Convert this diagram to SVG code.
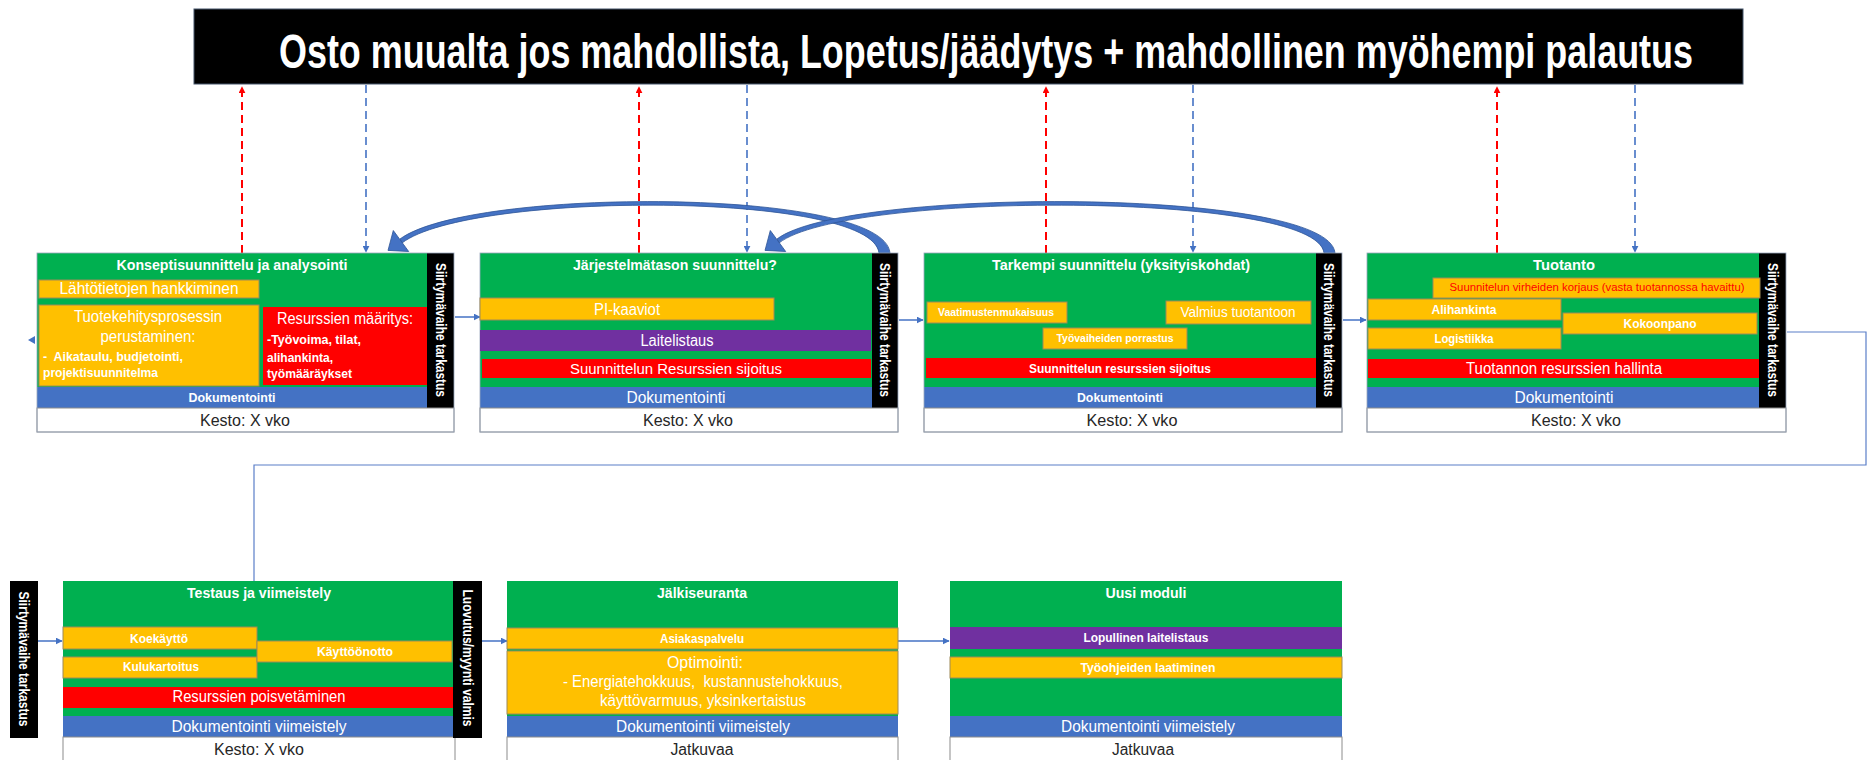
<svg xmlns="http://www.w3.org/2000/svg" width="1869" height="760" viewBox="0 0 1869 760">
  <style>
    .g{fill:#00B050}
    .o{fill:#FFC000;stroke:#9e8a58;stroke-width:1}
    .r{fill:#FF0000}
    .p{fill:#7030A0}
    .b{fill:#4472C4}
    .k{fill:#000}
    .w{fill:#fff;stroke:#8c8c8c;stroke-width:1}
    .frame{fill:none;stroke:#9aa7bd;stroke-width:0.8}
    text{font-family:"Liberation Sans",Arial,sans-serif;fill:#fff;text-anchor:middle}
    .bd{font-weight:bold}
    .dk{fill:#262626}
    .st{text-anchor:start}
    .red{fill:#FF0000}
    .flow{fill:none;stroke:#4472C4;stroke-width:1.5}
    .link{fill:none;stroke:#5b7fc8;stroke-width:1.2}
    .up{fill:none;stroke:#FF0000;stroke-width:2;stroke-dasharray:8 5}
    .down{fill:none;stroke:#4472C4;stroke-width:1.6;stroke-dasharray:8 5}
    .arc{fill:#4472C4;stroke:#2f5597;stroke-width:0.8}
  </style>
  <defs>
    <marker id="ah" viewBox="0 0 10 10" refX="9" refY="5" markerWidth="7" markerHeight="7" markerUnits="userSpaceOnUse" orient="auto">
      <path d="M0,0 L10,5 L0,10 z" fill="#4472C4"/>
    </marker>
    <marker id="ahRed" viewBox="0 0 10 10" refX="9" refY="5" markerWidth="7" markerHeight="7" markerUnits="userSpaceOnUse" orient="auto">
      <path d="M0,0 L10,5 L0,10 z" fill="#FF0000"/>
    </marker>
  </defs>

  <!-- banner -->
  <g id="banner">
    <rect x="194" y="9" width="1549" height="75" fill="#000" stroke="#44546a" stroke-width="1"/>
    <!-- tall condensed headline: vertical stretch keeps it within the bar width -->
    <text class="bd st" transform="translate(279,68) scale(1,1.4)" x="0" y="0" font-size="34" textLength="1414" lengthAdjust="spacingAndGlyphs">Osto muualta jos mahdollista, Lopetus/jäädytys + mahdollinen myöhempi palautus</text>
  </g>

  <!-- connectors -->
  <g id="connectors">
    <!-- escalation to banner (red, up) -->
    <line class="up" x1="242" y1="253" x2="242" y2="87" marker-end="url(#ahRed)"/>
    <line class="up" x1="639" y1="253" x2="639" y2="87" marker-end="url(#ahRed)"/>
    <line class="up" x1="1046" y1="253" x2="1046" y2="87" marker-end="url(#ahRed)"/>
    <line class="up" x1="1497" y1="253" x2="1497" y2="87" marker-end="url(#ahRed)"/>
    <!-- return from banner (blue, down) -->
    <line class="down" x1="366" y1="85" x2="366" y2="252" marker-end="url(#ah)"/>
    <line class="down" x1="747" y1="85" x2="747" y2="252" marker-end="url(#ah)"/>
    <line class="down" x1="1193" y1="85" x2="1193" y2="252" marker-end="url(#ah)"/>
    <line class="down" x1="1635" y1="85" x2="1635" y2="252" marker-end="url(#ah)"/>

    <!-- loop-back arcs -->
    <path class="arc" d="M890,253 C884,187 470,187 400,239 L402,243 C470,191 872,191 879,253 Z"/>
    <polygon class="arc" points="408.7,251.5 388,250.4 393.3,230.5"/>
    <path class="arc" d="M1335,253 C1329,187 845,187 777,239 L779,243 C845,191 1317,191 1324,253 Z"/>
    <polygon class="arc" points="785.7,251.5 765,250.4 770.3,230.5"/>

    <!-- phase flow, row 1 -->
    <line class="flow" x1="455" y1="317" x2="480" y2="317" marker-end="url(#ah)"/>
    <line class="flow" x1="899" y1="320" x2="923" y2="320" marker-end="url(#ah)"/>
    <line class="flow" x1="1343" y1="320" x2="1366" y2="320" marker-end="url(#ah)"/>
    <polygon points="28,340 35,336 35,344" fill="#4472C4"/>
    <!-- wrap to row 2 -->
    <path class="link" d="M1787,332 H1866 V465 H254 V581"/>
    <!-- phase flow, row 2 -->
    <line class="flow" x1="38" y1="641" x2="62" y2="641" marker-end="url(#ah)"/>
    <line class="flow" x1="482" y1="641" x2="507" y2="641" marker-end="url(#ah)"/>
    <line class="flow" x1="898" y1="641" x2="949" y2="641" marker-end="url(#ah)"/>
  </g>

  <!-- Phase 1 -->
  <g id="konseptisuunnittelu">
    <rect class="g" x="37" y="253" width="390" height="134"/>
    <rect class="b" x="37" y="387" width="390" height="21"/>
    <rect class="k" x="427" y="253" width="27" height="155"/>
    <rect class="w" x="37" y="408" width="417" height="24"/>
    <rect class="frame" x="37" y="253" width="417" height="179"/>
    <text class="bd" x="232" y="270" font-size="15" textLength="231" lengthAdjust="spacingAndGlyphs">Konseptisuunnittelu ja analysointi</text>
    <rect class="o" x="39" y="280" width="220" height="18"/>
    <text x="149" y="294" font-size="16" textLength="179" lengthAdjust="spacingAndGlyphs">Lähtötietojen hankkiminen</text>
    <rect class="o" x="39" y="305" width="220" height="81"/>
    <text x="148" y="322" font-size="16" textLength="148" lengthAdjust="spacingAndGlyphs">Tuotekehitysprosessin</text>
    <text x="148" y="342" font-size="16" textLength="95" lengthAdjust="spacingAndGlyphs">perustaminen:</text>
    <text class="bd st" x="43" y="361" font-size="13" textLength="140" lengthAdjust="spacingAndGlyphs" xml:space="preserve">-  Aikataulu, budjetointi,</text>
    <text class="bd st" x="43" y="377" font-size="13" textLength="115" lengthAdjust="spacingAndGlyphs">projektisuunnitelma</text>
    <rect class="r" x="263" y="307" width="164" height="78"/>
    <text x="345" y="324" font-size="16" textLength="136" lengthAdjust="spacingAndGlyphs">Resurssien määritys:</text>
    <text class="bd st" x="267" y="344" font-size="13" textLength="94" lengthAdjust="spacingAndGlyphs">-Työvoima, tilat,</text>
    <text class="bd st" x="267" y="362" font-size="13" textLength="66" lengthAdjust="spacingAndGlyphs">alihankinta,</text>
    <text class="bd st" x="267" y="378" font-size="13" textLength="85" lengthAdjust="spacingAndGlyphs">työmääräykset</text>
    <text class="bd" x="232" y="402" font-size="13" textLength="87" lengthAdjust="spacingAndGlyphs">Dokumentointi</text>
    <text class="dk" x="245" y="426" font-size="16" textLength="90" lengthAdjust="spacingAndGlyphs">Kesto: X vko</text>
    <text class="bd" transform="translate(440.5,330) rotate(90)" y="5" font-size="14" textLength="134" lengthAdjust="spacingAndGlyphs">Siirtymävaihe tarkastus</text>
  </g>

  <!-- Phase 2 -->
  <g id="jarjestelmataso">
    <rect class="g" x="480" y="253" width="392" height="134"/>
    <rect class="b" x="480" y="387" width="392" height="21"/>
    <rect class="k" x="872" y="253" width="26" height="155"/>
    <rect class="w" x="480" y="408" width="418" height="24"/>
    <rect class="frame" x="480" y="253" width="418" height="179"/>
    <text class="bd" x="675" y="270" font-size="15" textLength="204" lengthAdjust="spacingAndGlyphs">Järjestelmätason suunnittelu?</text>
    <rect class="o" x="480" y="298" width="294" height="22"/>
    <text x="627" y="315" font-size="16" textLength="66" lengthAdjust="spacingAndGlyphs">PI-kaaviot</text>
    <rect class="p" x="480" y="330" width="391" height="21"/>
    <text x="677" y="346" font-size="16" textLength="73" lengthAdjust="spacingAndGlyphs">Laitelistaus</text>
    <rect class="r" x="482" y="359" width="389" height="19"/>
    <text x="676" y="374" font-size="15" textLength="212" lengthAdjust="spacingAndGlyphs">Suunnittelun Resurssien sijoitus</text>
    <text x="676" y="403" font-size="16" textLength="99" lengthAdjust="spacingAndGlyphs">Dokumentointi</text>
    <text class="dk" x="688" y="426" font-size="16" textLength="90" lengthAdjust="spacingAndGlyphs">Kesto: X vko</text>
    <text class="bd" transform="translate(885,330) rotate(90)" y="5" font-size="14" textLength="134" lengthAdjust="spacingAndGlyphs">Siirtymävaihe tarkastus</text>
  </g>

  <!-- Phase 3 -->
  <g id="tarkempi">
    <rect class="g" x="924" y="253" width="392" height="134"/>
    <rect class="b" x="924" y="387" width="392" height="21"/>
    <rect class="k" x="1316" y="253" width="26" height="155"/>
    <rect class="w" x="924" y="408" width="418" height="24"/>
    <rect class="frame" x="924" y="253" width="418" height="179"/>
    <text class="bd" x="1121" y="270" font-size="15.5" textLength="258" lengthAdjust="spacingAndGlyphs">Tarkempi suunnittelu (yksityiskohdat)</text>
    <rect class="o" x="927" y="302" width="140" height="21"/>
    <text class="bd" x="996" y="316" font-size="11" textLength="116" lengthAdjust="spacingAndGlyphs">Vaatimustenmukaisuus</text>
    <rect class="o" x="1166" y="301" width="145" height="23"/>
    <text x="1238" y="317" font-size="15" textLength="115" lengthAdjust="spacingAndGlyphs">Valmius tuotantoon</text>
    <rect class="o" x="1043" y="328" width="144" height="21"/>
    <text class="bd" x="1115" y="342" font-size="11" textLength="117" lengthAdjust="spacingAndGlyphs">Työvaiheiden porrastus</text>
    <rect class="r" x="926" y="358" width="390" height="20"/>
    <text class="bd" x="1120" y="373" font-size="13" textLength="182" lengthAdjust="spacingAndGlyphs">Suunnittelun resurssien sijoitus</text>
    <text class="bd" x="1120" y="402" font-size="13" textLength="86" lengthAdjust="spacingAndGlyphs">Dokumentointi</text>
    <text class="dk" x="1132" y="426" font-size="16" textLength="91" lengthAdjust="spacingAndGlyphs">Kesto: X vko</text>
    <text class="bd" transform="translate(1329,330) rotate(90)" y="5" font-size="14" textLength="134" lengthAdjust="spacingAndGlyphs">Siirtymävaihe tarkastus</text>
  </g>

  <!-- Phase 4 -->
  <g id="tuotanto">
    <rect class="g" x="1367" y="253" width="392" height="134"/>
    <rect class="b" x="1367" y="387" width="392" height="21"/>
    <rect class="k" x="1759" y="253" width="27" height="155"/>
    <rect class="w" x="1367" y="408" width="419" height="24"/>
    <rect class="frame" x="1367" y="253" width="419" height="179"/>
    <text class="bd" x="1564" y="270" font-size="15" textLength="62" lengthAdjust="spacingAndGlyphs">Tuotanto</text>
    <rect class="o" x="1433" y="278" width="327" height="20"/>
    <text class="red" x="1597" y="291" font-size="11.5" textLength="295" lengthAdjust="spacingAndGlyphs">Suunnitelun virheiden korjaus (vasta tuotannossa havaittu)</text>
    <rect class="o" x="1368" y="299" width="193" height="21"/>
    <text class="bd" x="1464" y="314" font-size="13" textLength="65" lengthAdjust="spacingAndGlyphs">Alihankinta</text>
    <rect class="o" x="1368" y="328" width="193" height="21"/>
    <text class="bd" x="1464" y="343" font-size="13" textLength="59" lengthAdjust="spacingAndGlyphs">Logistiikka</text>
    <rect class="o" x="1563" y="313" width="194" height="21"/>
    <text class="bd" x="1660" y="328" font-size="13" textLength="73" lengthAdjust="spacingAndGlyphs">Kokoonpano</text>
    <rect class="r" x="1368" y="359" width="391" height="19"/>
    <text x="1564" y="374" font-size="16" textLength="196" lengthAdjust="spacingAndGlyphs">Tuotannon resurssien hallinta</text>
    <text x="1564" y="403" font-size="16" textLength="99" lengthAdjust="spacingAndGlyphs">Dokumentointi</text>
    <text class="dk" x="1576" y="426" font-size="16" textLength="90" lengthAdjust="spacingAndGlyphs">Kesto: X vko</text>
    <text class="bd" transform="translate(1772.5,330) rotate(90)" y="5" font-size="14" textLength="134" lengthAdjust="spacingAndGlyphs">Siirtymävaihe tarkastus</text>
  </g>

  <!-- Transition gate before testing -->
  <g id="siirtyma-testaus">
    <rect class="k" x="10" y="581" width="28" height="157"/>
    <text class="bd" transform="translate(24,659) rotate(90)" y="5" font-size="14" textLength="135" lengthAdjust="spacingAndGlyphs">Siirtymävaihe tarkastus</text>
  </g>

  <!-- Phase 5 -->
  <g id="testaus">
    <rect class="g" x="63" y="581" width="390" height="135"/>
    <rect class="b" x="63" y="716" width="390" height="21"/>
    <rect class="w" x="63" y="737" width="392" height="30"/>
    <rect class="k" x="453" y="581" width="29" height="157"/>
    <text class="bd" x="259" y="598" font-size="15" textLength="144" lengthAdjust="spacingAndGlyphs">Testaus ja viimeistely</text>
    <rect class="o" x="63" y="627" width="194" height="22"/>
    <text class="bd" x="159" y="643" font-size="13" textLength="58" lengthAdjust="spacingAndGlyphs">Koekäyttö</text>
    <rect class="o" x="63" y="657" width="194" height="21"/>
    <text class="bd" x="161" y="671" font-size="13" textLength="76" lengthAdjust="spacingAndGlyphs">Kulukartoitus</text>
    <rect class="o" x="257" y="641" width="195" height="21"/>
    <text class="bd" x="355" y="656" font-size="13" textLength="76" lengthAdjust="spacingAndGlyphs">Käyttöönotto</text>
    <rect class="r" x="63" y="687" width="390" height="21"/>
    <text x="259" y="702" font-size="16" textLength="173" lengthAdjust="spacingAndGlyphs">Resurssien poisvetäminen</text>
    <text x="259" y="732" font-size="16" textLength="175" lengthAdjust="spacingAndGlyphs">Dokumentointi viimeistely</text>
    <text class="dk" x="259" y="755" font-size="16" textLength="90" lengthAdjust="spacingAndGlyphs">Kesto: X vko</text>
    <text class="bd" transform="translate(467.5,658) rotate(90)" y="5" font-size="14" textLength="137" lengthAdjust="spacingAndGlyphs">Luovutus/myynti valmis</text>
  </g>

  <!-- Phase 6 -->
  <g id="jalkiseuranta">
    <rect class="g" x="507" y="581" width="391" height="135"/>
    <rect class="b" x="507" y="716" width="391" height="21"/>
    <rect class="w" x="507" y="737" width="391" height="30"/>
    <text class="bd" x="702" y="598" font-size="15" textLength="90" lengthAdjust="spacingAndGlyphs">Jälkiseuranta</text>
    <rect class="o" x="507" y="628" width="391" height="21"/>
    <text class="bd" x="702" y="643" font-size="12" textLength="84" lengthAdjust="spacingAndGlyphs">Asiakaspalvelu</text>
    <rect class="o" x="507" y="651" width="391" height="63"/>
    <text x="705" y="668" font-size="16" textLength="76" lengthAdjust="spacingAndGlyphs">Optimointi:</text>
    <text x="703" y="687" font-size="16" textLength="280" lengthAdjust="spacingAndGlyphs" xml:space="preserve">- Energiatehokkuus,  kustannustehokkuus,</text>
    <text x="703" y="706" font-size="16" textLength="206" lengthAdjust="spacingAndGlyphs">käyttövarmuus, yksinkertaistus</text>
    <text x="703" y="732" font-size="16" textLength="174" lengthAdjust="spacingAndGlyphs">Dokumentointi viimeistely</text>
    <text class="dk" x="702" y="755" font-size="16" textLength="63" lengthAdjust="spacingAndGlyphs">Jatkuvaa</text>
  </g>

  <!-- Phase 7 -->
  <g id="uusi-moduli">
    <rect class="g" x="950" y="581" width="392" height="135"/>
    <rect class="b" x="950" y="716" width="392" height="21"/>
    <rect class="w" x="950" y="737" width="392" height="30"/>
    <text class="bd" x="1146" y="598" font-size="15" textLength="81" lengthAdjust="spacingAndGlyphs">Uusi moduli</text>
    <rect class="p" x="950" y="627" width="392" height="22"/>
    <text class="bd" x="1146" y="642" font-size="12" textLength="125" lengthAdjust="spacingAndGlyphs">Lopullinen laitelistaus</text>
    <rect class="o" x="950" y="657" width="392" height="21"/>
    <text class="bd" x="1148" y="672" font-size="12" textLength="135" lengthAdjust="spacingAndGlyphs">Työohjeiden laatiminen</text>
    <text x="1148" y="732" font-size="16" textLength="174" lengthAdjust="spacingAndGlyphs">Dokumentointi viimeistely</text>
    <text class="dk" x="1143" y="755" font-size="16" textLength="62" lengthAdjust="spacingAndGlyphs">Jatkuvaa</text>
  </g>
</svg>
